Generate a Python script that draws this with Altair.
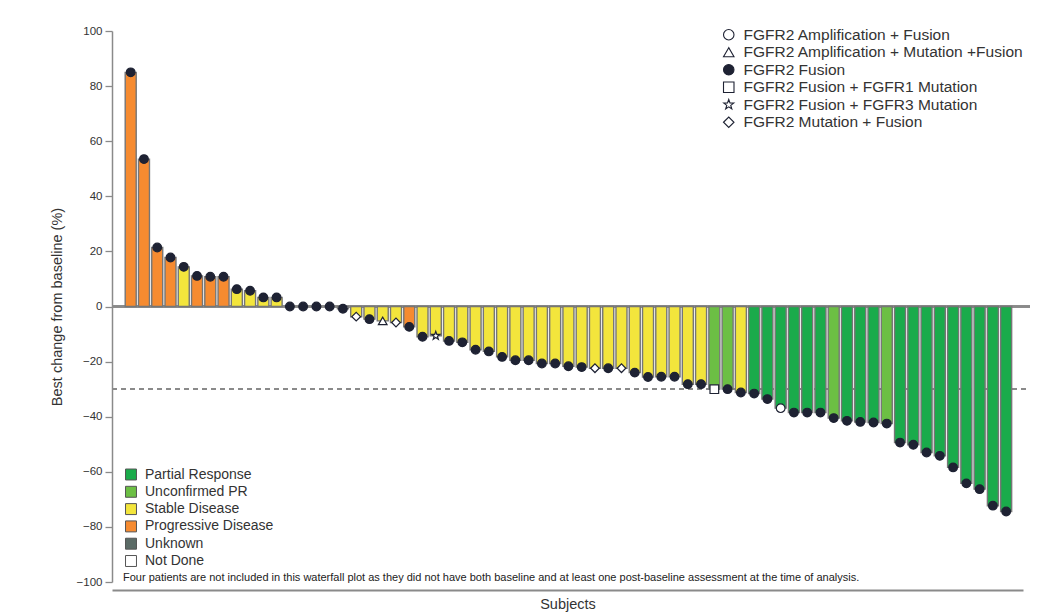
import altair as alt
import pandas as pd

# ---- data ----
values = [85, 53.5, 21.4, 17.8, 14.4, 11.1, 10.8, 10.8, 6.3, 5.7, 3.3, 3.3,
          0, 0, 0, 0, -0.8,
          -3.7, -4.6, -5.2, -5.8, -7.4, -11, -10.6, -12.5, -13,
          -15.7, -16.3, -18.3, -19.5, -19.5, -20.7, -20.7, -21.7, -22, -22.4,
          -22.4, -22.4, -24, -25.6, -25.5, -25.5, -28.2, -28.2,
          -30, -30, -31.2, -31.6, -33.6, -36.9, -38.5, -38.5, -38.5,
          -40.5, -41.5, -41.9, -42.1, -42.5,
          -49.4, -50.2, -53, -54.2, -58.4, -64.2, -66.3, -72.3, -74.4]

PR, UPR, SD, PD, UNK, ND = ("Partial Response", "Unconfirmed PR", "Stable Disease",
                            "Progressive Disease", "Unknown", "Not Done")
response = ([PD] * 4 + [SD] + [PD] * 3 + [SD] * 4 + [ND] * 5 + [SD] * 4 + [PD]
            + [SD] * 22 + [UPR] * 2 + [SD] + [PR] * 6 + [UPR] + [PR] * 3 + [UPR]
            + [PR] * 9)

AF = "FGFR2 Amplification + Fusion"
AMF = "FGFR2 Amplification + Mutation +Fusion"
F = "FGFR2 Fusion"
F1 = "FGFR2 Fusion + FGFR1 Mutation"
F3 = "FGFR2 Fusion + FGFR3 Mutation"
MF = "FGFR2 Mutation + Fusion"
special = {18: MF, 20: AMF, 21: MF, 24: F3, 36: MF, 38: MF, 45: F1, 50: AF}
alteration = [special.get(i + 1, F) for i in range(len(values))]

resp_domain = [PR, UPR, SD, PD, UNK, ND]
resp_colors = ["#1aab4b", "#6cbf44", "#f3e53c", "#f68b30", "#5b6b66", "#ffffff"]
alt_domain = [AF, AMF, F, F1, F3, MF]
star = ("M0,-1L0.235,-0.324L0.951,-0.309L0.38,0.124L0.588,0.809L0,0.4"
        "L-0.588,0.809L-0.38,0.124L-0.951,-0.309L-0.235,-0.324Z")
alt_shapes = ["circle", "triangle-up", "circle", "square", star, "diamond"]
alt_fills = ["#ffffff", "#ffffff", "#1e2233", "#ffffff", "#ffffff", "#ffffff"]
alt_strokes = ["#1e2233"] * 6

y_ticks = [100, 80, 60, 40, 20, 0, -20, -40, -60, -80, -100]
footnote = ("Four patients are not included in this waterfall plot as they did not have both "
            "baseline and at least one post-baseline assessment at the time of analysis.")

df = pd.DataFrame({"subject": list(range(1, len(values) + 1)),
                   "change": values, "response": response, "alteration": alteration})

FONT = "Liberation Sans"
x_scale = alt.Scale(domain=[-0.41, 68.27], nice=False, zero=False, padding=0)
x_enc = alt.X("subject:Q", scale=x_scale,
              axis=alt.Axis(title="Subjects", labels=False, ticks=False, grid=False,
                            domainColor="#8a8a8a", domainWidth=2, offset=8,
                            titleFontSize=14.5, titleFontWeight="normal", titleColor="#333",
                            titlePadding=7, titleFont=FONT))
y_scale = alt.Scale(domain=[-100, 100], nice=False, padding=0)

bars = alt.Chart(df).mark_bar(size=11, stroke="#767676", strokeWidth=1.4).encode(
    x=x_enc,
    y=alt.Y("change:Q", scale=y_scale,
            axis=alt.Axis(title="Best change from baseline (%)", values=y_ticks, grid=False,
                          domainColor="#8a8a8a", domainWidth=1.5, tickColor="#8a8a8a",
                          tickWidth=1.3, tickSize=7, labelFontSize=11.5, labelColor="#333",
                          labelFont=FONT, titleFont=FONT, titleFontSize=14.5,
                          titleFontWeight="normal", titleColor="#333", titlePadding=12,
                          labelPadding=3)),
    color=alt.Color("response:N", scale=alt.Scale(domain=resp_domain, range=resp_colors),
                    legend=alt.Legend(title=None, orient="none", legendX=12, legendY=436.5,
                                      symbolType="square", symbolSize=120,
                                      symbolStrokeColor="#555", symbolStrokeWidth=1,
                                      labelFontSize=14, labelColor="#333", labelFont=FONT,
                                      rowPadding=1.3, labelOffset=7, labelLimit=400)),
)

zero = alt.Chart(df).mark_rule(color="#8a8a8a", strokeWidth=1.5).encode(
    y=alt.datum(0, scale=y_scale), x=alt.value(0), x2=alt.value(918))
dash = alt.Chart(df).mark_rule(color="#8a8a8a", strokeWidth=1.5, strokeDash=[5, 4]).encode(
    y=alt.datum(-30, scale=y_scale), x=alt.value(0), x2=alt.value(918))

shape_legend = alt.Legend(title=None, orient="none", legendX=609, legendY=-4,
                          symbolSize=110, symbolStrokeWidth=1.1, labelFontSize=15.5,
                          labelColor="#333", labelFont=FONT, rowPadding=0.5,
                          labelOffset=7, labelLimit=400)
points = alt.Chart(df).mark_point(filled=True, size=75, strokeWidth=1.2,
                                  opacity=1).encode(
    x=alt.X("subject:Q", scale=x_scale),
    y=alt.Y("change:Q", scale=y_scale),
    shape=alt.Shape("alteration:N", scale=alt.Scale(domain=alt_domain, range=alt_shapes),
                    legend=shape_legend),
    fill=alt.Fill("alteration:N", scale=alt.Scale(domain=alt_domain, range=alt_fills),
                  legend=shape_legend),
    stroke=alt.Stroke("alteration:N", scale=alt.Scale(domain=alt_domain, range=alt_strokes),
                      legend=shape_legend),
)

note = alt.Chart(pd.DataFrame({"t": [footnote]})).mark_text(
    align="left", baseline="alphabetic", fontSize=11, font=FONT, color="#222").encode(
    text="t:N", x=alt.value(11), y=alt.value(550))

chart = alt.layer(zero, dash, bars, points, note).resolve_scale(
    color="independent").properties(
    width=911, height=551,
    autosize=alt.AutoSizeParams(type="none"),
    padding={"left": 104, "top": 23, "right": 17, "bottom": 32},
    background="white",
).configure(font=FONT).configure_view(strokeWidth=0, stroke="transparent")

chart.save("out.html", embed_options={"renderer": "svg", "actions": False})
